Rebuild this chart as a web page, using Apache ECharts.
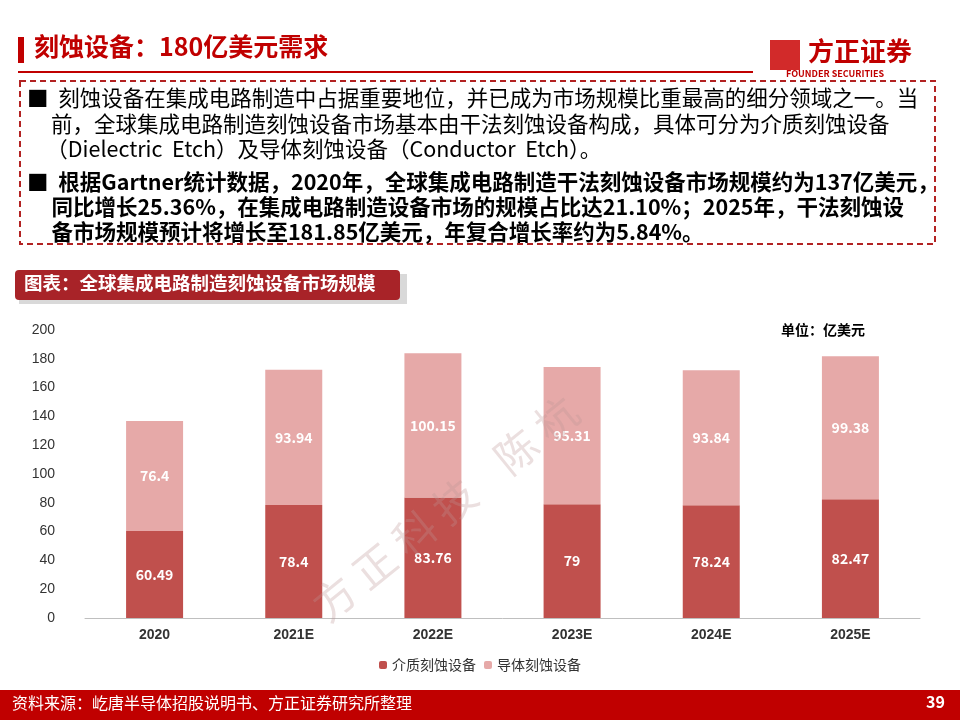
<!DOCTYPE html>
<html><head><meta charset="utf-8">
<script src="https://cdn.jsdelivr.net/npm/echarts@6/dist/echarts.min.js"></script>
<style>html,body{margin:0;padding:0;background:#fff}#main{width:960px;height:720px}</style>
</head><body><div id="main"></div>
<script>
var years = ['2020', '2021E', '2022E', '2023E', '2024E', '2025E'];
var dielectric = [60.49, 78.4, 83.76, 79, 78.24, 82.47];
var conductor = [76.4, 93.94, 100.15, 95.31, 93.84, 99.38];
var yTicks = [0, 200, 20];

var chart = echarts.init(document.getElementById('main'));
var F = '"Noto Sans CJK SC", sans-serif';
var textLines = [
  ['■  刻蚀设备在集成电路制造中占据重要地位，并已成为市场规模比重最高的细分领域之一。当', 'normal', 101],
  ['     前，全球集成电路制造刻蚀设备市场基本由干法刻蚀设备构成，具体可分为介质刻蚀设备', 'normal', 127],
  ['    （Dielectric  Etch）及导体刻蚀设备（Conductor  Etch）。', 'normal', 152],
  ['■  根据Gartner统计数据，2020年，全球集成电路制造干法刻蚀设备市场规模约为137亿美元，', 'bold', 185],
  ['     同比增长25.36%，在集成电路制造设备市场的规模占比达21.10%；2025年，干法刻蚀设', 'bold', 210],
  ['     备市场规模预计将增长至181.85亿美元，年复合增长率约为5.84%。', 'bold', 235]
];
var graphics = [
  {type:'rect', shape:{x:18,y:37,width:6,height:26}, style:{fill:'#c00000'}},
  {type:'text', left:34, top:34, style:{text:'刻蚀设备：180亿美元需求', fill:'#c00000', font:'bold 25px '+F}},
  {type:'rect', shape:{x:18,y:71,width:735,height:2}, style:{fill:'#c00000'}},
  {type:'rect', shape:{x:770,y:40,width:30,height:30}, style:{fill:'#d22a2a'}},
  {type:'text', left:808, top:38, style:{text:'方正证券', fill:'#c00000', font:'bold 26px '+F}},
  {type:'text', left:786, top:69, style:{text:'FOUNDER SECURITIES', fill:'#c00000', font:'bold 9px '+F}},
  {type:'rect', shape:{x:20,y:81,width:915,height:163}, style:{fill:'none', stroke:'#b22222', lineWidth:2, lineDash:[6,4]}},
  {type:'rect', shape:{x:19,y:274,width:388,height:30}, style:{fill:'#d9d9d9'}},
  {type:'rect', shape:{x:15,y:270,width:385,height:30,r:4}, style:{fill:'#a82328'}},
  {type:'text', left:24, top:274, style:{text:'图表：全球集成电路制造刻蚀设备市场规模', fill:'#fff', font:'bold 18.5px '+F}},
  {type:'text', left:781, top:323, style:{text:'单位：亿美元', fill:'#000', font:'bold 14px '+F}},
  {type:'text', x:305, y:595, rotation:0.68, z:100, silent:true,
   style:{text:'方 正 科 技    陈 杭', fill:'rgba(190,150,150,0.3)', font:'42px '+F}},
  {type:'rect', shape:{x:0,y:690,width:960,height:30}, style:{fill:'#c00000'}},
  {type:'text', left:12, top:695, style:{text:'资料来源：屹唐半导体招股说明书、方正证券研究所整理', fill:'#fff', font:'16px '+F}},
  {type:'text', left:926, top:694, style:{text:'39', fill:'#fff', font:'bold 16px '+F}}
];
textLines.forEach(function (l) {
  graphics.push({type:'text', left:27, top:l[2]-14, style:{text:l[0], fill:'#000', font:l[1]+' 21.5px '+F}});
});

var lbl = {show:true, color:'#fff', fontSize:14, fontWeight:'bold', fontFamily:F};
chart.setOption({
  animation:false,
  graphic:graphics,
  grid:{left:85, right:40, top:330, bottom:102},
  legend:{bottom:43, itemWidth:8, itemHeight:8, textStyle:{fontSize:14, fontFamily:F, color:'#333'},
    data:['介质刻蚀设备','导体刻蚀设备']},
  xAxis:{type:'category', data:years, axisTick:{show:false},
    axisLine:{lineStyle:{color:'#bfbfbf'}},
    axisLabel:{color:'#333', fontSize:14, fontWeight:'bold', margin:10}},
  yAxis:{type:'value', min:yTicks[0], max:yTicks[1], interval:yTicks[2], splitLine:{show:false},
    axisLabel:{color:'#333', fontSize:14, margin:30}},
  series:[
    {name:'介质刻蚀设备', type:'bar', stack:'a', data:dielectric, barWidth:57,
     itemStyle:{color:'#c0504d'}, label:lbl},
    {name:'导体刻蚀设备', type:'bar', stack:'a', data:conductor,
     itemStyle:{color:'#e6a9a8'}, label:lbl}
  ]
});
</script></body></html>
